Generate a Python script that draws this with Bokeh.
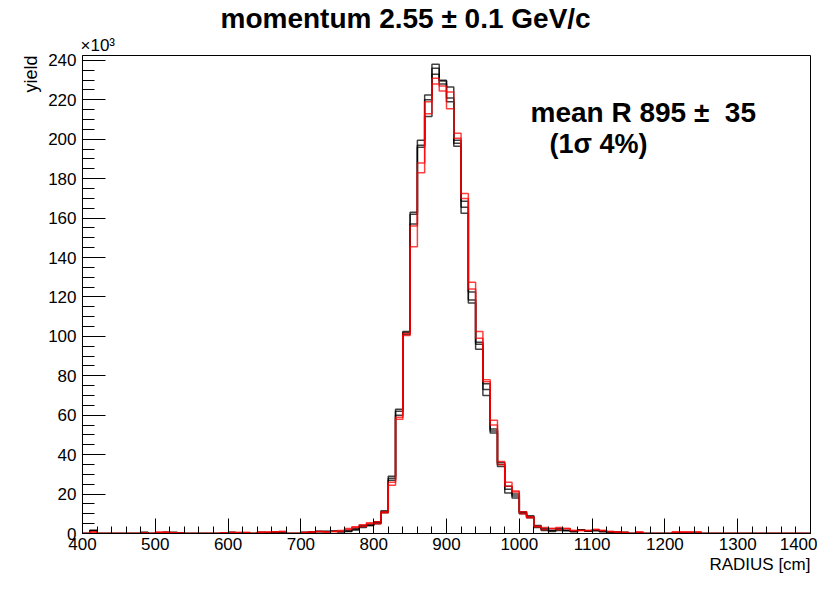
import numpy as np
from bokeh.plotting import figure
from bokeh.models import Range1d, SingleIntervalTicker, Label, Title
from bokeh.embed import file_html
from bokeh.resources import INLINE

# ---- data (yield in units of 10^3, bins of 10 cm) ----
bin_edges_lo, bin_edges_hi, bin_width = 400, 1400, 10

core_bins = [750, 760, 770, 780, 790, 800, 810, 820, 830, 840, 850, 860, 870, 880, 890, 900,
             910, 920, 930, 940, 950, 960, 970, 980, 990, 1000, 1010, 1020, 1030, 1040, 1050]

black_1 = [1.0, 1.5, 2.0, 3.5, 4.0, 5.5, 11.0, 29.0, 63.0, 102.5, 163.0, 199.5, 222.5, 238.0, 229.5, 226.5,
           199.5, 168.5, 122.5, 96.0, 76.0, 53.0, 36.0, 22.5, 20.0, 10.5, 8.5, 3.5, 1.5, 1.5, 2.0]
black_2 = [0.8, 1.2, 1.8, 3.0, 4.5, 5.0, 10.5, 28.0, 62.0, 101.0, 162.0, 197.0, 211.5, 233.0, 228.0, 221.0,
           196.5, 165.5, 117.0, 93.5, 70.0, 51.0, 34.0, 20.5, 18.0, 10.0, 8.0, 3.0, 2.0, 1.0, 2.5]
black_3 = [1.2, 1.0, 2.5, 4.0, 4.0, 6.0, 11.5, 27.0, 60.0, 102.0, 157.0, 196.0, 220.0, 236.0, 230.0, 219.0,
           198.0, 162.5, 118.5, 97.0, 73.0, 52.0, 35.0, 24.0, 19.0, 11.0, 9.0, 4.0, 2.5, 1.5, 1.5]
red_1 = [1.5, 2.5, 3.4, 4.5, 5.5, 5.0, 10.5, 24.5, 58.0, 101.5, 145.5, 183.0, 213.0, 228.0, 224.5, 215.5,
         203.0, 172.5, 127.5, 102.5, 78.0, 57.5, 35.0, 26.0, 21.5, 10.0, 8.0, 3.5, 3.0, 2.5, 3.0]
red_2 = [1.0, 2.0, 3.0, 3.5, 5.0, 6.0, 11.0, 26.0, 59.0, 100.5, 156.0, 188.0, 219.0, 231.0, 227.0, 224.0,
         200.5, 170.0, 124.0, 99.0, 77.0, 55.0, 36.5, 24.0, 21.0, 11.0, 8.5, 3.5, 2.0, 2.5, 2.0]

tail_bins = [410, 480, 500, 510, 520, 530, 590, 600, 610, 620, 640, 650, 660, 670, 700, 710, 720, 730, 740,
             1060, 1070, 1080, 1090, 1100, 1110, 1120, 1130, 1140, 1160, 1210, 1220, 1230, 1240]
tail_black = [1.5, 0.5, 0.3, 0.5, 0.5, 0.4, 0.3, 0.5, 0.4, 0.3, 0.5, 0.4, 0.6, 0.3, 0.5, 0.8, 1.0, 1.0, 1.2,
              1.5, 1.0, 1.8, 1.2, 1.5, 1.0, 0.8, 0.6, 0.5, 0.3, 0.2, 0.2, 0.2, 0.2]
tail_red = [0.8, 0.2, 0.6, 0.6, 0.4, 0.3, 0.4, 0.5, 0.5, 0.5, 0.6, 0.7, 0.9, 1.0, 0.5, 0.7, 1.0, 0.8, 1.0,
            2.5, 1.5, 1.5, 1.5, 2.0, 1.5, 1.0, 0.8, 0.5, 0.8, 0.8, 0.8, 0.8, 0.8]

hists = [(black_1, tail_black, "#000000"), (black_2, tail_black, "#000000"), (black_3, tail_black, "#000000"),
         (red_1, tail_red, "#ff0000"), (red_2, tail_red, "#ff0000")]

title_text = "momentum 2.55 \u00b1 0.1 GeV/c"
stat_text = "mean R 895 \u00b1\u00a0\u00a035"
sigma_text = "(1\u03c3 4%)"
xlabel_text = "RADIUS [cm]"
ylabel_text = "yield"
yexp_text = "\u00d710\u00b3"

FONT = "Liberation Sans"

p = figure(width=817, height=573, x_range=Range1d(400, 1400), y_range=Range1d(0, 242.5),
           title=None, toolbar_location=None, output_backend="svg",
           min_border_left=82, min_border_right=7, min_border_top=52, min_border_bottom=36)
p.background_fill_color = "white"
p.border_fill_color = "white"
p.outline_line_color = "#000000"
p.outline_line_width = 1
p.xgrid.visible = False
p.ygrid.visible = False

edges = np.arange(bin_edges_lo, bin_edges_hi + bin_width, bin_width)
nb = len(edges) - 1


def full_hist(core, tail):
    v = np.zeros(nb)
    for b, y in zip(tail_bins, tail):
        v[(b - bin_edges_lo) // bin_width] = y
    for b, y in zip(core_bins, core):
        v[(b - bin_edges_lo) // bin_width] = y
    return v


for core, tail, col in hists:
    v = full_hist(core, tail)
    xs = np.concatenate([[edges[0]], np.repeat(edges, 2)[1:-1], [edges[-1]]])
    ys = np.concatenate([[0], np.repeat(v, 2), [0]])
    p.line(xs, ys, line_color=col, line_width=1.5, line_alpha=0.75)

# axes
xax = p.xaxis[0]
xax.ticker = SingleIntervalTicker(interval=100, num_minor_ticks=5)
xax.major_tick_in = 15
xax.major_tick_out = 0
xax.minor_tick_in = 7
xax.minor_tick_out = 0
xax.major_label_standoff = 4
xax.major_label_text_font = FONT
xax.major_label_text_font_size = "17px"
xax.major_label_text_color = "#000000"
xax.axis_line_color = "#000000"
xax.major_tick_line_color = "#000000"
xax.minor_tick_line_color = "#000000"

yax = p.yaxis[0]
yax.ticker = SingleIntervalTicker(interval=20, num_minor_ticks=4)
yax.major_tick_in = 23
yax.major_tick_out = 0
yax.minor_tick_in = 12
yax.minor_tick_out = 0
yax.major_label_standoff = 6
yax.major_label_text_font = FONT
yax.major_label_text_font_size = "17px"
yax.major_label_text_color = "#000000"
yax.axis_line_color = "#000000"
yax.major_tick_line_color = "#000000"
yax.minor_tick_line_color = "#000000"

# side texts (titles live outside the frame)
p.add_layout(Title(text=yexp_text, align="left", text_font=FONT, text_font_size="17px",
                   text_font_style="normal", text_color="#000000", standoff=1, offset=-2), "above")
p.add_layout(Title(text=title_text, align="left", text_font=FONT, text_font_size="28px",
                   text_font_style="bold", text_color="#000000", standoff=0, offset=138), "above")
p.add_layout(Title(text=ylabel_text, align="right", text_font=FONT, text_font_size="18px",
                   text_font_style="normal", text_color="#000000", standoff=10), "left")
p.add_layout(Title(text=xlabel_text, align="right", text_font=FONT, text_font_size="17px",
                   text_font_style="normal", text_color="#000000", standoff=0), "below")


def lab(text, x, y, size, bold=False, align="left"):
    p.add_layout(Label(x=x, y=y, x_units="screen", y_units="screen", text=text,
                       text_font=FONT, text_font_size=size,
                       text_font_style="bold" if bold else "normal",
                       text_align=align, text_baseline="alphabetic",
                       text_color="#000000"))


lab(stat_text, 448, 421, "28px", bold=True)
lab(sigma_text, 467, 390, "27px", bold=True)

open("out.html", "w").write(file_html(p, INLINE))
